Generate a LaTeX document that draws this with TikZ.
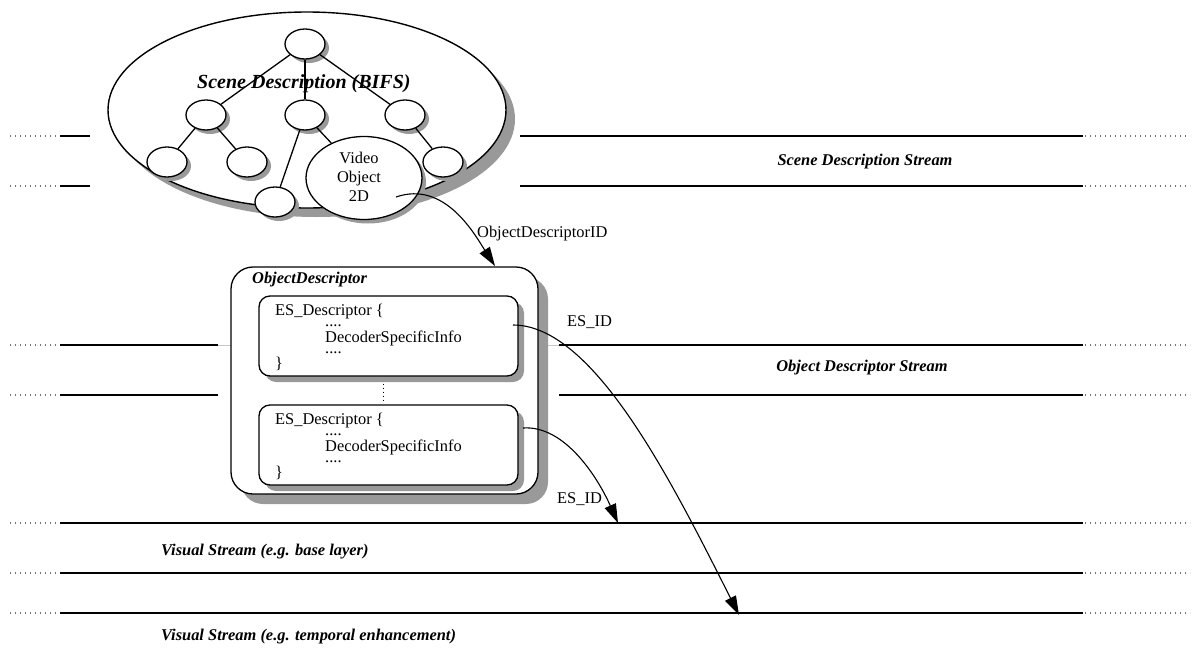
\documentclass[tikz,border=0pt]{standalone}
\usepackage{fontspec}
\setmainfont{Liberation Serif}
\usepackage{tikz}
\usetikzlibrary{arrows.meta, positioning, shapes.geometric, shadows}
\definecolor{shadowgray}{HTML}{999999}
\definecolor{faintgray}{HTML}{C8C8C8}

\begin{document}
\begin{tikzpicture}[x=1pt, y=-1pt, font=\fontsize{16.4}{19}\selectfont,
  stream/.style={line width=1.4pt},
  streamdots/.style={line width=1.2pt, black!55, dash pattern=on 1.2pt off 3.8pt},
  treenode/.style={ellipse, draw, line width=1.3pt, fill=white, inner sep=0pt,
    minimum width=40pt, minimum height=30pt,
    drop shadow={shadow xshift=4pt, shadow yshift=-4pt, fill=shadowgray, opacity=1}},
  treeedge/.style={line width=1.3pt},
  descbox/.style={rectangle, draw, line width=1.3pt, fill=white, inner sep=0pt},
  idarrow/.style={line width=1.1pt, -{Triangle[length=19pt, width=12pt]}},
  streamlabel/.style={inner sep=0pt, font=\fontsize{16.4}{19}\selectfont\bfseries\itshape},
  plain/.style={inner sep=0pt, anchor=base west},
  estext/.style={inner sep=0pt, anchor=north west, align=left, font=\fontsize{16.4}{13.5}\selectfont}]
\useasboundingbox (0,0) rectangle (1195,659);

% streams
\foreach \y in {136,186,345,395,523,573,613}
  \draw[streamdots] (10,\y) -- (60,\y) (1085,\y) -- (1190,\y);
\foreach \y in {136,186}
  \draw[stream] (60,\y) -- (90,\y) (520,\y) -- (1083,\y);
\foreach \y in {345,395}
  \draw[stream] (60,\y) -- (218,\y) (559,\y) -- (1083,\y);
\draw[faintgray, line width=0.5pt] (218,345) -- (559,345);
\foreach \y in {523,573,613}
  \draw[stream] (60,\y) -- (1083,\y);

\node[streamlabel] (sdstream) at (865,162) {Scene Description Stream};
\node[streamlabel] (odstream) at (862,368) {Object Descriptor Stream};
\node[streamlabel, anchor=base west] (vbase) at (161,555) {Visual Stream (e.g. base layer)};
\node[streamlabel, anchor=base west] (vtemp) at (161,640) {Visual Stream (e.g. temporal enhancement)};

% scene tree
\node[ellipse, draw, line width=1.4pt, fill=white, minimum width=398pt, minimum height=196pt,
  drop shadow={shadow xshift=9pt, shadow yshift=-9pt, fill=shadowgray, opacity=1}] (scene) at (307,110) {};
\node[treenode] (root) at (305,44) {};
\node[treenode] (na) at (206,115) {};
\node[treenode] (nb) at (305,115) {};
\node[treenode] (nc) at (405,115) {};
\node[treenode] (naa) at (167,162) {};
\node[treenode] (nab) at (247,162) {};
\node[treenode] (nba) at (275,202) {};
\node[treenode] (nca) at (443,162) {};
\node[treenode, minimum width=116pt, minimum height=83pt] (vo) at (364,178) {};
\draw[treeedge] (root) -- (na);
\draw[treeedge] (root) -- (nb);
\draw[treeedge] (root) -- (nc);
\draw[treeedge] (na) -- (naa);
\draw[treeedge] (na) -- (nab);
\draw[treeedge] (nb) -- (nba);
\draw[treeedge] (nb) -- (vo);
\draw[treeedge] (nc) -- (nca);
\node[plain, font=\fontsize{20}{24}\selectfont\bfseries\itshape] (bifs) at (197,88) {Scene Description (BIFS)};
\node[plain, anchor=base] (vo1) at (359,163) {Video};
\node[plain, anchor=base] (vo2) at (359,182) {Object};
\node[plain, anchor=base] (vo3) at (359,201) {2D};

% object descriptor
\node[descbox, rounded corners=22pt, minimum width=307pt, minimum height=227pt,
  drop shadow={shadow xshift=10pt, shadow yshift=-10pt, fill=shadowgray, opacity=1}] (od) at (384.5,380.5) {};
\node[plain, font=\fontsize{16.4}{19}\selectfont\bfseries\itshape] (odtitle) at (252,283) {ObjectDescriptor};
\node[descbox, rounded corners=11pt, minimum width=259pt, minimum height=80pt,
  drop shadow={shadow xshift=6pt, shadow yshift=-6pt, fill=shadowgray, opacity=1}] (es1) at (388.5,336) {};
\node[descbox, rounded corners=11pt, minimum width=259pt, minimum height=80pt,
  drop shadow={shadow xshift=6pt, shadow yshift=-6pt, fill=shadowgray, opacity=1}] (es2) at (388.5,445) {};
\node[estext] (es1text) at (275,303.7) {ES\_Descriptor \{\\[-2.5pt]\hspace*{50pt}....\\[2.5pt]
  \hspace*{50pt}DecoderSpecificInfo\\[-2.5pt]\hspace*{50pt}....\\[1.5pt]\}};
\node[estext] (es2text) at (275,412.7) {ES\_Descriptor \{\\[-2.5pt]\hspace*{50pt}....\\[2.5pt]
  \hspace*{50pt}DecoderSpecificInfo\\[-2.5pt]\hspace*{50pt}....\\[1.5pt]\}};
\draw[line width=1pt, dash pattern=on 1pt off 3pt] ([xshift=-5pt, yshift=-7pt]es1.south) -- ([xshift=-5pt, yshift=2pt]es2.north);

% identifiers
\coordinate (odidstart) at (396,197);
\coordinate (odidend) at (495,266);
\coordinate (esidstart) at (513,325);
\coordinate (esidend) at (739,615);
\coordinate (esidbstart) at (523,428);
\coordinate (esidbend) at (618,523);
\draw[idarrow] (odidstart) .. controls (445,180) and (475,235) .. (odidend);
\draw[idarrow] (esidstart) .. controls (593,325) and (670,478) .. (esidend);
\draw[idarrow] (esidbstart) .. controls (565,425) and (598,478) .. (esidbend);
\node[plain] (odid) at (477,237) {ObjectDescriptorID};
\node[plain] (esid) at (567,326) {ES\_ID};
\node[plain] (esidb) at (557,503) {ES\_ID};
\end{tikzpicture}
\end{document}
